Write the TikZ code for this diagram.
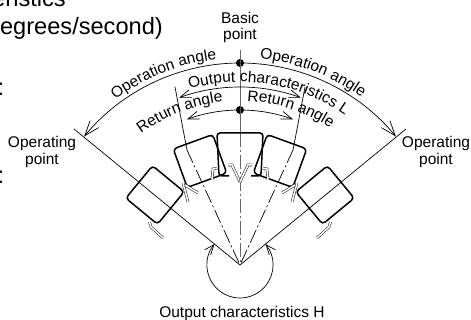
\documentclass[tikz,border=0pt]{standalone}
\usepackage{fontspec}
\setmainfont{Liberation Sans}
\usetikzlibrary{arrows.meta,decorations.text}

\def\labelsize{\fontsize{15.5}{17}\selectfont}

\begin{document}
\begin{tikzpicture}[x=1pt,y=1pt,font=\labelsize]
      \tikzstyle{thin line}=[line width=0.7pt]
      \tikzstyle{big arrow}=[thin line,-{Straight Barb[length=15pt,width=11pt]}]
      \tikzstyle{small arrow}=[thin line,-{Straight Barb[length=11pt,width=8pt]}]
      \tikzstyle{axis}=[line width=0.7pt,draw=black!60]
      \tikzstyle{dash dot}=[line width=0.7pt,dash pattern=on 14pt off 3pt on 2pt off 3pt]
      \tikzstyle{switch box}=[draw,line width=1.5pt,rounded corners=3.5pt,minimum width=42pt,minimum height=41pt,inner sep=0pt]
      \tikzstyle{box line}=[line width=1.5pt,rounded corners=3pt]
      \tikzstyle{hook}=[draw=black!80,line width=0.6pt,double=white,double distance=1.5pt]
      \tikzstyle{dot}=[circle,fill=black,minimum size=8pt,inner sep=0pt]
      \tikzstyle{annot}=[align=center,text depth=0pt]
      \tikzstyle{arc text}=[decorate,decoration={text along path,text align=left,
          text format delimiters={|}{|}}]

      \useasboundingbox (0,0) rectangle (471,320);

      % Draw the apex and the end points of the radial lines
      \coordinate (apex) at (240,55);
      \coordinate (top) at (240,270);
      \coordinate (op-left) at (74,191);
      \coordinate (op-right) at (406,191);
      \coordinate (ret-left) at (175,233);
      \coordinate (ret-right) at (305,233);
      \coordinate (ret-left-mid) at (187,170);
      \coordinate (ret-right-mid) at (293,170);
      \coordinate (top-mid) at (240,187);
      \node[dot] (basic) at (240,257) {};
      \node[dot] (ret) at (240,210) {};

      % Draw the radial lines
      \draw[thin line] (apex) -- (op-left);
      \draw[thin line] (apex) -- (op-right);
      \draw[axis] (top) -- (top-mid);
      \draw[axis,dash dot] (top-mid) -- (apex);
      \foreach \side in {left,right} {
          \draw[thin line] (ret-\side) -- (ret-\side-mid);
          \draw[dash dot] (ret-\side-mid) -- (apex);
      }

      % Draw the switch boxes
      \node[switch box,rotate=50.5] (box-1) at (155,125) {};
      \node[switch box,rotate=20] (box-2) at (200,159) {};
      \node[switch box,rotate=-20] (box-4) at (280,159) {};
      \node[switch box,rotate=-50.5] (box-5) at (325,125) {};
      \draw[box line] (229,144) -- (219,144) -- (217,187) -- (263,187) -- (261,144) -- (251,144);

      % Draw the hooks, left side and its mirror image
      \foreach \side in {1,-1} {
          \begin{scope}[xshift=240pt,xscale=\side]
              \draw[hook] (-90.5,98) -- (-89,93) -- (-77,82);
              \draw[hook] (-57,137) -- (-52,118);
              \draw[hook] (-55,135) -- (-42,127);
              \draw[hook] (-28,140) -- (-27,151) -- (-23,152);
              \draw[hook] (-12,155) -- (-8,155) -- (0,138);
          \end{scope}
      }

      % Draw the arcs with their arrows
      \draw[big arrow] (basic.center) arc[start angle=90,end angle=140.5,radius=202];
      \draw[big arrow] (basic.center) arc[start angle=90,end angle=39.5,radius=202];
      \draw[small arrow] ([shift={(90:178)}]apex) arc[start angle=90,end angle=70,radius=178];
      \draw[small arrow] ([shift={(90:178)}]apex) arc[start angle=90,end angle=110,radius=178];
      \draw[small arrow] (ret.center) arc[start angle=90,end angle=110,radius=155];
      \draw[small arrow] (ret.center) arc[start angle=90,end angle=70,radius=155];
      \draw[thin line,{Straight Barb[length=10pt,width=8pt]}-{Straight Barb[length=10pt,width=8pt]}]
          ([shift={(140.5:33)}]apex) arc[start angle=140.5,end angle=399.5,radius=33];

      % Annotate the arcs
      \path[arc text,decoration={text={|\labelsize|Operation angle}}]
          ([shift={(127:207)}]apex) arc[start angle=127,end angle=90,radius=207];
      \path[arc text,decoration={text={|\labelsize|Operation angle}}]
          ([shift={(84.5:207)}]apex) arc[start angle=84.5,end angle=48,radius=207];
      \path[arc text,decoration={text={|\labelsize|Output characteristics L}}]
          ([shift={(106:183)}]apex) arc[start angle=106,end angle=46,radius=183];
      \path[arc text,decoration={text={|\labelsize|Return angle}}]
          ([shift={(127:164)}]apex) arc[start angle=127,end angle=90,radius=164];
      \path[arc text,decoration={text={|\labelsize|Return angle}}]
          ([shift={(87.5:164)}]apex) arc[start angle=87.5,end angle=50,radius=164];

      % Annotate the points
      \node[annot,anchor=base] (basic-lbl) at (240,296) {Basic};
      \node[annot,anchor=base] (basic-lbl2) at (240,280) {point};
      \node[annot,anchor=base] (op-l-lbl) at (42,172) {Operating};
      \node[annot,anchor=base] (op-l-lbl2) at (42,155) {point};
      \node[annot,anchor=base] (op-r-lbl) at (436,172) {Operating};
      \node[annot,anchor=base] (op-r-lbl2) at (436,155) {point};
      \node[annot,anchor=base] (h-lbl) at (242,2) {Output characteristics H};

      % Text cut off by the left and top edges
      \node[anchor=base east,inner sep=0pt,font=\fontsize{23.6}{28}\selectfont] (t-1) at (66,313) {characteristics};
      \node[anchor=base east,inner sep=0pt,font=\fontsize{23.6}{28}\selectfont] (t-2) at (163,285) {(degrees/second)};
      \node[anchor=base east,inner sep=0pt,font=\fontsize{23.6}{28}\selectfont] (t-3) at (4.5,224) {:};
      \node[anchor=base east,inner sep=0pt,font=\fontsize{23.6}{28}\selectfont] (t-4) at (4.5,136) {:};
\end{tikzpicture}
\end{document}
